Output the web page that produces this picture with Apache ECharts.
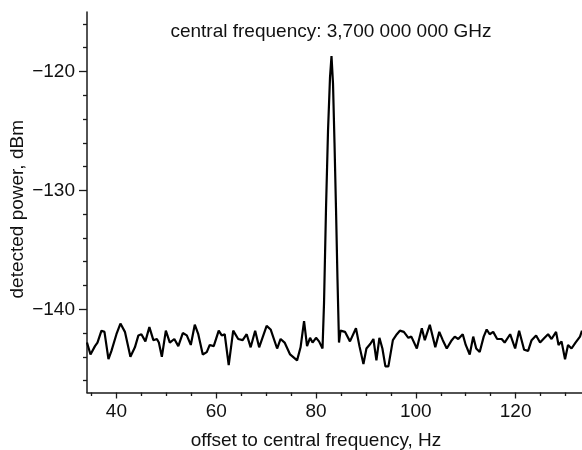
<!DOCTYPE html>
<html><head><meta charset="utf-8">
<script src="https://cdn.jsdelivr.net/npm/echarts@6.0.0/dist/echarts.min.js"></script>
<style>html,body{margin:0;padding:0;background:#fff}#c{width:582px;height:450px}</style>
</head><body><div id="c"></div>
<script>
const xValues = [34.1,34.8,35.7,36.2,37.0,37.6,38.4,39.0,39.3,40.0,40.8,41.7,42.8,43.7,44.4,45.0,45.8,46.6,47.4,48.1,48.5,49.1,49.9,50.7,51.6,52.4,53.3,54.1,54.9,55.7,56.4,57.3,58.1,58.7,59.5,60.5,61.1,61.7,62.5,63.4,64.4,65.3,66.1,66.9,67.8,68.6,70.1,70.9,72.2,72.9,73.7,74.8,76.2,76.9,77.6,78.2,78.8,79.3,80.0,80.6,81.3,81.6,82.0,82.4,82.8,83.1,83.4,83.7,84.0,84.3,84.6,84.9,85.8,86.8,88.0,88.7,89.5,90.1,90.9,91.5,92.1,92.7,93.3,93.9,94.5,95.4,96.2,96.8,97.6,98.5,99.1,100.2,101.2,101.8,102.8,103.5,103.9,104.7,105.4,106.2,107.2,107.8,108.5,109.4,110.0,110.8,111.5,112.1,112.8,113.6,114.2,114.8,115.5,116.3,117.2,117.8,118.9,119.9,120.7,121.7,122.5,123.2,124.1,124.9,125.8,126.5,127.2,128.1,128.6,129.2,129.9,130.5,131.2,132.0,132.9,133.3];
const powerValues = [-142.8,-143.8,-143.1,-142.8,-141.8,-141.9,-144.2,-143.5,-143.5,-142.1,-141.2,-141.9,-144.0,-143.2,-142.2,-142.1,-142.7,-141.5,-142.6,-142.5,-142.8,-144.0,-141.8,-142.8,-142.5,-143.1,-142.0,-142.2,-143.0,-141.3,-142.1,-143.8,-143.6,-143.0,-143.1,-141.8,-142.2,-142.1,-144.7,-141.8,-142.5,-142.6,-142.1,-143.2,-141.8,-143.2,-141.4,-141.7,-143.3,-142.5,-142.8,-143.8,-144.3,-143.2,-141.0,-143.1,-142.4,-142.8,-142.4,-142.7,-143.3,-139.5,-131.5,-125.0,-120.5,-118.7,-121.0,-126.0,-131.5,-137.5,-142.8,-141.8,-141.9,-142.7,-141.6,-143.1,-144.6,-143.3,-142.9,-142.5,-144.3,-142.4,-143.3,-144.8,-144.8,-142.6,-142.1,-141.8,-141.9,-142.4,-142.3,-143.3,-141.6,-142.6,-141.3,-142.5,-143.2,-141.9,-142.6,-143.3,-142.6,-142.3,-142.5,-142.1,-143.0,-143.8,-142.3,-143.3,-143.6,-142.3,-141.7,-142.1,-141.9,-142.5,-142.5,-142.8,-142.1,-143.3,-141.8,-143.4,-143.5,-142.6,-142.2,-142.8,-142.4,-142.1,-142.5,-141.9,-143.0,-142.7,-144.2,-143.0,-143.3,-142.8,-142.3,-141.8];
const xMajorTicks = [40, 60, 80, 100, 120];
const xMinorTicks = [35, 45, 50, 55, 65, 70, 75, 85, 90, 95, 105, 110, 115, 125, 130];
const yMajorTicks = [-140, -130, -120];
const yMinorTicks = [-146, -144, -142, -138, -136, -134, -132, -128, -126, -124, -122, -118, -116];
const titleText = 'central frequency: 3,700 000 000 GHz';
const xAxisName = 'offset to central frequency, Hz';
const yAxisName = 'detected power, dBm';

const FONT = '"Liberation Sans", Arial, Helvetica, sans-serif';
const FS = 19;
const AX = '#1a1a1a';
const xMin = 34.1, xMax = 133.3, yMin = -147, yMax = -115;

const chart = echarts.init(document.getElementById('c'), null, {renderer: 'canvas'});
const minus = v => String(v).replace('-', '\u2212');
chart.setOption({
  animation: false,
  backgroundColor: '#fff',
  grid: {left: 87, right: 0, top: 12, bottom: 57.5, containLabel: false, outerBoundsMode: 'none'},
  graphic: [{
    type: 'text', x: 331, y: 22,
    style: {text: titleText, fontSize: FS, fontFamily: FONT, fill: '#111', align: 'center', verticalAlign: 'top'}
  }],
  xAxis: [{
    type: 'value', min: xMin, max: xMax, position: 'bottom',
    splitLine: {show: false},
    axisLine: {show: true, onZero: false, lineStyle: {color: AX, width: 1.5}},
    axisTick: {show: true, customValues: xMajorTicks, length: 6, lineStyle: {color: AX, width: 1.3}},
    axisLabel: {customValues: xMajorTicks, margin: 10, fontSize: FS, fontFamily: FONT, color: '#111'},
    name: xAxisName, nameLocation: 'middle', nameGap: 39,
    nameTextStyle: {fontSize: FS, fontFamily: FONT, color: '#111', padding: [0, 37, 0, 0]}
  }, {
    type: 'value', min: xMin, max: xMax, position: 'bottom', offset: 0,
    splitLine: {show: false},
    axisLine: {show: false, onZero: false},
    axisTick: {show: true, customValues: xMinorTicks, length: 3.5, lineStyle: {color: AX, width: 1.3}},
    axisLabel: {show: false}
  }],
  yAxis: [{
    type: 'value', min: yMin, max: yMax, position: 'left',
    splitLine: {show: false},
    axisLine: {show: true, onZero: false, lineStyle: {color: AX, width: 1.5}},
    axisTick: {show: true, customValues: yMajorTicks, length: 8, lineStyle: {color: AX, width: 1.3}},
    axisLabel: {customValues: yMajorTicks, margin: 12, fontSize: FS, fontFamily: FONT, color: '#111', formatter: minus},
    name: yAxisName, nameLocation: 'middle', nameGap: 60, nameRotate: 90, nameMoveOverlap: false,
    nameTextStyle: {fontSize: FS, fontFamily: FONT, color: '#111', padding: [0, 14, 0, 0]}
  }, {
    type: 'value', min: yMin, max: yMax, position: 'left', offset: 0,
    splitLine: {show: false},
    axisLine: {show: false, onZero: false},
    axisTick: {show: true, customValues: yMinorTicks, length: 4, lineStyle: {color: AX, width: 1.3}},
    axisLabel: {show: false}
  }],
  series: [{
    type: 'line', xAxisIndex: 0, yAxisIndex: 0,
    data: xValues.map((x, i) => [x, powerValues[i]]),
    showSymbol: false, symbol: 'none', smooth: false,
    lineStyle: {color: '#000', width: 2.2}
  }]
});
</script></body></html>
